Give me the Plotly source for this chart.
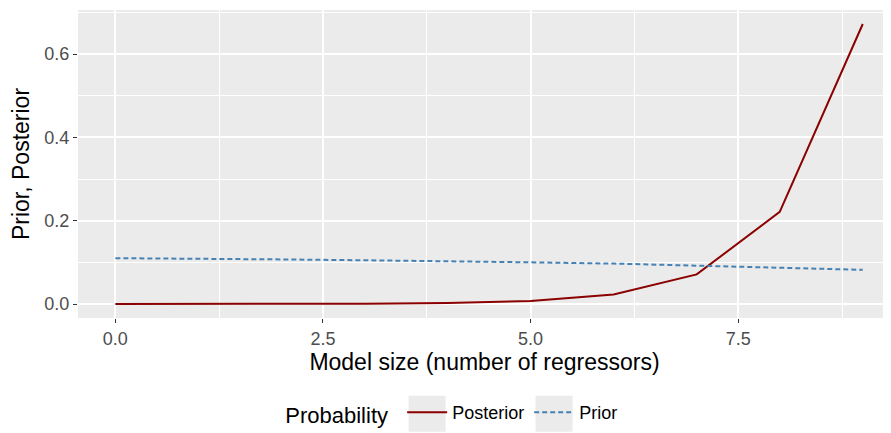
import plotly.graph_objects as go

model_size = [0, 1, 2, 3, 4, 5, 6, 7, 8, 9]
posterior = [0.0, 0.0001, 0.0003, 0.0008, 0.0022, 0.0072, 0.023, 0.071, 0.221, 0.672]
prior = [0.110, 0.109, 0.107, 0.105, 0.103, 0.100, 0.097, 0.092, 0.087, 0.082]

x_ticks = [0, 2.5, 5, 7.5]
x_tick_labels = ["0.0", "2.5", "5.0", "7.5"]
y_ticks = [0, 0.2, 0.4, 0.6]
y_tick_labels = ["0.0", "0.2", "0.4", "0.6"]

FONT = "Liberation Sans, Arial, sans-serif"

fig = go.Figure()
fig.add_trace(go.Scatter(x=model_size, y=posterior, mode="lines", name="Posterior",
                         line=dict(color="#8B0000", width=2)))
fig.add_trace(go.Scatter(x=model_size, y=prior, mode="lines", name="Prior",
                         line=dict(color="#4682B4", width=2, dash="5px,3px")))

axis_common = dict(
    showline=False, zeroline=False, automargin=False,
    gridcolor="white", gridwidth=1.8,
    ticks="outside", ticklen=4, tickcolor="#333333", tickwidth=1.2,
    tickfont=dict(family=FONT, size=18, color="#4D4D4D"),
    title_font=dict(family=FONT, size=23, color="black"),
)

fig.update_xaxes(
    range=[-0.45, 9.34], tickvals=x_ticks, ticktext=x_tick_labels,
    title_text="Model size (number of regressors)", title_standoff=5,
    minor=dict(tickvals=[1.25, 3.75, 6.25, 8.75], showgrid=True, gridcolor="white", gridwidth=0.9, ticks=""),
    **axis_common,
)
fig.update_yaxes(
    range=[-0.0336, 0.7056], tickvals=y_ticks, ticktext=y_tick_labels,
    title_text="Prior, Posterior", title_standoff=9,
    minor=dict(tickvals=[0.1, 0.3, 0.5, 0.7], showgrid=True, gridcolor="white", gridwidth=0.9, ticks=""),
    **axis_common,
)

# grey legend-key backgrounds (ggplot style)
for x0 in (0.4066, 0.5628):
    fig.add_shape(type="rect", xref="paper", yref="paper", layer="below",
                  x0=x0, x1=x0 + 0.0455, y0=-0.369, y1=-0.2524,
                  fillcolor="#EBEBEB", line=dict(width=0))

fig.update_layout(
    width=883, height=425,
    margin=dict(l=70, r=0, t=2, b=114),
    plot_bgcolor="#EBEBEB", paper_bgcolor="white",
    showlegend=True,
    legend=dict(
        orientation="h", x=0.461, xanchor="center", y=-0.31, yanchor="middle",
        title=dict(text="Probability ", font=dict(family=FONT, size=22, color="black")),
        font=dict(family=FONT, size=18, color="black"),
        bgcolor="rgba(0,0,0,0)", itemwidth=40,
    ),
)

fig.write_html("out.html")
